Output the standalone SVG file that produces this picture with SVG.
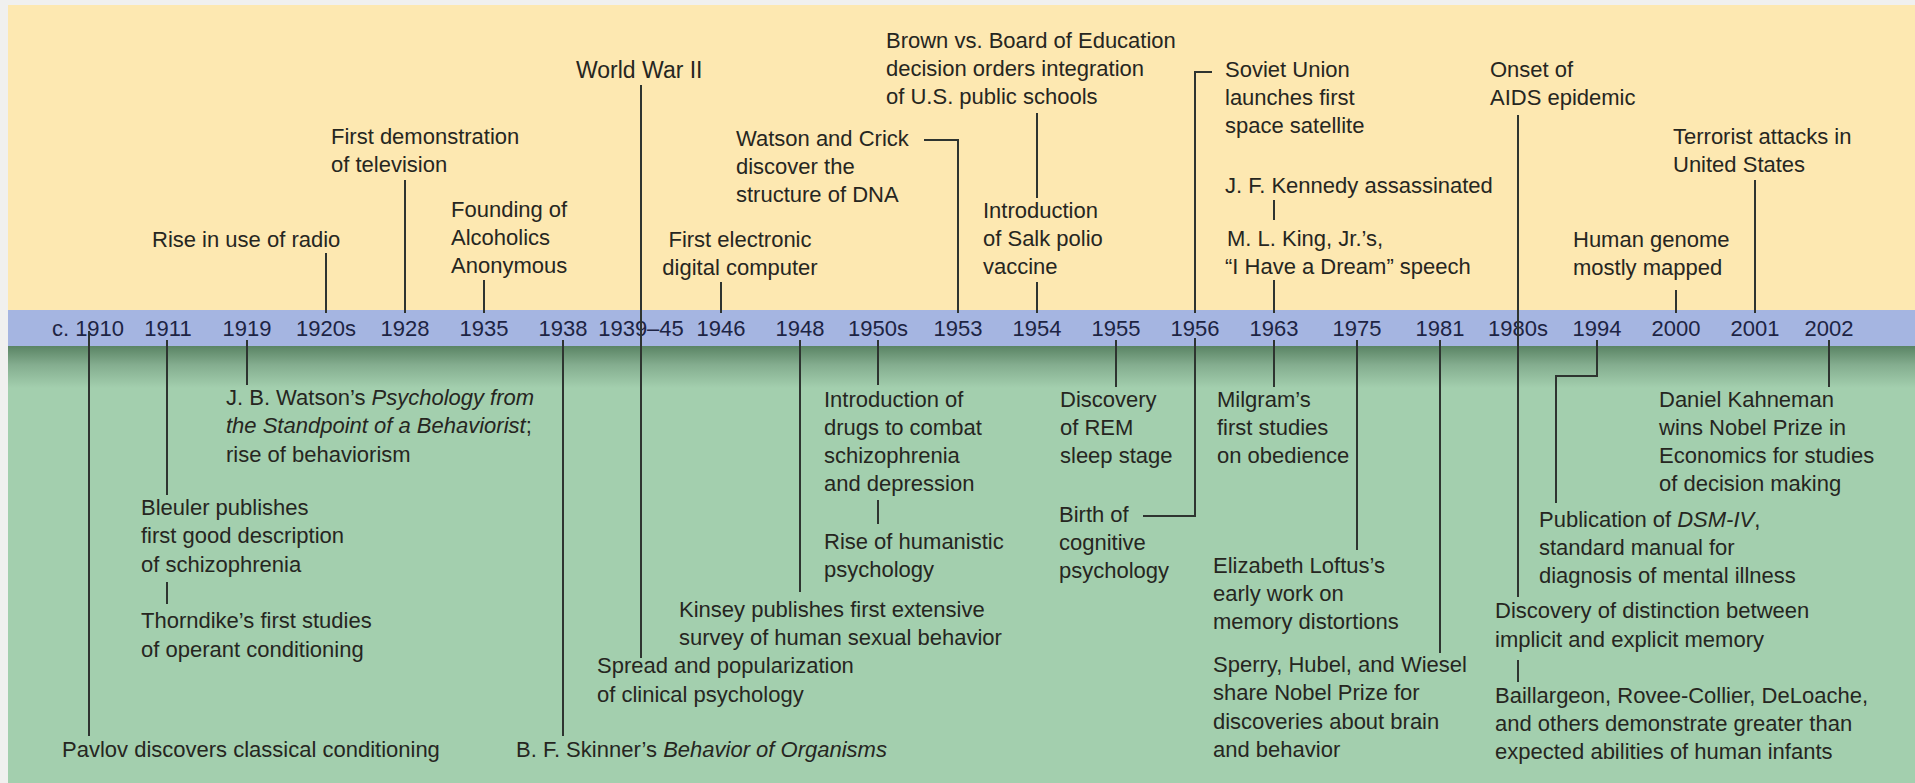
<svg xmlns="http://www.w3.org/2000/svg" width="1915" height="783" viewBox="0 0 1915 783">
<defs>
<linearGradient id="shadow" x1="0" y1="0" x2="0" y2="1">
<stop offset="0" stop-color="#5a8464"/>
<stop offset="0.45" stop-color="#84ad8f"/>
<stop offset="1" stop-color="#a3cfae"/>
</linearGradient>
<style>
.t{font-family:"Liberation Sans",Arial,sans-serif;font-size:22px;fill:#26261f}
.i{font-style:italic}
.yr{font-family:"Liberation Sans",Arial,sans-serif;font-size:22px;fill:#1d2444;text-anchor:middle}
.c{stroke:#2e3430;stroke-width:2;fill:none}
.mid{text-anchor:middle}
</style>
</defs>
<g id="background">
<rect x="0" y="0" width="1915" height="783" fill="#f0f0ef"/>
<rect x="8" y="5" width="1907" height="305" fill="#fde8b1"/>
<rect x="8" y="346" width="1907" height="437" fill="#a3cfae"/>
<rect x="8" y="346" width="1907" height="42" fill="url(#shadow)"/>
<rect x="8" y="310" width="1907" height="36" fill="#a5b5e1"/>
</g>
<g id="years">
<text class="yr" x="88" y="336">c. 1910</text>
<text class="yr" x="168" y="336">1911</text>
<text class="yr" x="247" y="336">1919</text>
<text class="yr" x="326" y="336">1920s</text>
<text class="yr" x="405" y="336">1928</text>
<text class="yr" x="484" y="336">1935</text>
<text class="yr" x="563" y="336">1938</text>
<text class="yr" x="641" y="336">1939–45</text>
<text class="yr" x="721" y="336">1946</text>
<text class="yr" x="800" y="336">1948</text>
<text class="yr" x="878" y="336">1950s</text>
<text class="yr" x="958" y="336">1953</text>
<text class="yr" x="1037" y="336">1954</text>
<text class="yr" x="1116" y="336">1955</text>
<text class="yr" x="1195" y="336">1956</text>
<text class="yr" x="1274" y="336">1963</text>
<text class="yr" x="1357" y="336">1975</text>
<text class="yr" x="1440" y="336">1981</text>
<text class="yr" x="1518" y="336">1980s</text>
<text class="yr" x="1597" y="336">1994</text>
<text class="yr" x="1676" y="336">2000</text>
<text class="yr" x="1755" y="336">2001</text>
<text class="yr" x="1829" y="336">2002</text>
</g>
<g id="connectors">
<line class="c" x1="89" y1="331" x2="89" y2="736"/>
<line class="c" x1="167" y1="340" x2="167" y2="495"/>
<line class="c" x1="167" y1="582" x2="167" y2="604"/>
<line class="c" x1="247" y1="340" x2="247" y2="385"/>
<line class="c" x1="326" y1="253" x2="326" y2="313"/>
<line class="c" x1="405" y1="180" x2="405" y2="313"/>
<line class="c" x1="484" y1="280" x2="484" y2="313"/>
<line class="c" x1="563" y1="340" x2="563" y2="736"/>
<line class="c" x1="641" y1="85" x2="641" y2="658"/>
<line class="c" x1="721" y1="282" x2="721" y2="313"/>
<line class="c" x1="800" y1="340" x2="800" y2="592"/>
<line class="c" x1="878" y1="340" x2="878" y2="385"/>
<line class="c" x1="878" y1="500" x2="878" y2="524"/>
<polyline class="c" points="924,140 958,140 958,313"/>
<line class="c" x1="1037" y1="113" x2="1037" y2="198"/>
<line class="c" x1="1037" y1="282" x2="1037" y2="313"/>
<line class="c" x1="1116" y1="340" x2="1116" y2="387"/>
<polyline class="c" points="1212,72 1195,72 1195,313"/>
<polyline class="c" points="1195,338 1195,516 1143,516"/>
<line class="c" x1="1274" y1="200" x2="1274" y2="220"/>
<line class="c" x1="1274" y1="280" x2="1274" y2="313"/>
<line class="c" x1="1274" y1="340" x2="1274" y2="387"/>
<line class="c" x1="1357" y1="340" x2="1357" y2="550"/>
<line class="c" x1="1440" y1="340" x2="1440" y2="653"/>
<line class="c" x1="1518" y1="115" x2="1518" y2="597"/>
<line class="c" x1="1518" y1="660" x2="1518" y2="682"/>
<polyline class="c" points="1597,340 1597,376 1556,376 1556,503"/>
<line class="c" x1="1676" y1="290" x2="1676" y2="313"/>
<line class="c" x1="1755" y1="180" x2="1755" y2="313"/>
<line class="c" x1="1829" y1="340" x2="1829" y2="387"/>
</g>
<g id="n-radio"><text class="t" x="152" y="247">Rise in use of radio</text></g>
<g id="n-tv"><text class="t"><tspan x="331" y="144">First demonstration</tspan><tspan x="331" y="172">of television</tspan></text></g>
<g id="n-aa"><text class="t"><tspan x="451" y="217">Founding of</tspan><tspan x="451" y="245">Alcoholics</tspan><tspan x="451" y="273">Anonymous</tspan></text></g>
<g id="n-wwii"><text class="t" x="576" y="78" style="font-size:23px">World War II</text></g>
<g id="n-computer"><text class="t mid"><tspan x="740" y="247">First electronic</tspan><tspan x="740" y="275">digital computer</tspan></text></g>
<g id="n-dna"><text class="t"><tspan x="736" y="146">Watson and Crick</tspan><tspan x="736" y="174">discover the</tspan><tspan x="736" y="202">structure of DNA</tspan></text></g>
<g id="n-brown"><text class="t"><tspan x="886" y="48">Brown vs. Board of Education</tspan><tspan x="886" y="76">decision orders integration</tspan><tspan x="886" y="104">of U.S. public schools</tspan></text></g>
<g id="n-salk"><text class="t"><tspan x="983" y="218">Introduction</tspan><tspan x="983" y="246">of Salk polio</tspan><tspan x="983" y="274">vaccine</tspan></text></g>
<g id="n-sputnik"><text class="t"><tspan x="1225" y="77">Soviet Union</tspan><tspan x="1225" y="105">launches first</tspan><tspan x="1225" y="133">space satellite</tspan></text></g>
<g id="n-jfk"><text class="t" x="1225" y="193">J. F. Kennedy assassinated</text></g>
<g id="n-mlk"><text class="t"><tspan x="1227" y="246">M. L. King, Jr.’s,</tspan><tspan x="1225" y="274">“I Have a Dream” speech</tspan></text></g>
<g id="n-aids"><text class="t"><tspan x="1490" y="77">Onset of</tspan><tspan x="1490" y="105">AIDS epidemic</tspan></text></g>
<g id="n-terror"><text class="t"><tspan x="1673" y="144">Terrorist attacks in</tspan><tspan x="1673" y="172">United States</tspan></text></g>
<g id="n-genome"><text class="t"><tspan x="1573" y="247">Human genome</tspan><tspan x="1573" y="275">mostly mapped</tspan></text></g>
<g id="n-pavlov"><text class="t" x="62" y="757">Pavlov discovers classical conditioning</text></g>
<g id="n-bleuler"><text class="t"><tspan x="141" y="515">Bleuler publishes</tspan><tspan x="141" y="543">first good description</tspan><tspan x="141" y="572">of schizophrenia</tspan></text></g>
<g id="n-thorndike"><text class="t"><tspan x="141" y="628">Thorndike’s first studies</tspan><tspan x="141" y="657">of operant conditioning</tspan></text></g>
<g id="n-watson"><text class="t"><tspan x="226" y="405">J. B. Watson’s <tspan class="i">Psychology from</tspan></tspan><tspan x="226" y="433"><tspan class="i">the Standpoint of a Behaviorist</tspan>;</tspan><tspan x="226" y="462">rise of behaviorism</tspan></text></g>
<g id="n-skinner"><text class="t" x="516" y="757">B. F. Skinner’s <tspan class="i">Behavior of Organisms</tspan></text></g>
<g id="n-clinical"><text class="t"><tspan x="597" y="673">Spread and popularization</tspan><tspan x="597" y="702">of clinical psychology</tspan></text></g>
<g id="n-kinsey"><text class="t"><tspan x="679" y="617">Kinsey publishes first extensive</tspan><tspan x="679" y="645">survey of human sexual behavior</tspan></text></g>
<g id="n-drugs"><text class="t"><tspan x="824" y="407">Introduction of</tspan><tspan x="824" y="435">drugs to combat</tspan><tspan x="824" y="463">schizophrenia</tspan><tspan x="824" y="491">and depression</tspan></text></g>
<g id="n-humanistic"><text class="t"><tspan x="824" y="549">Rise of humanistic</tspan><tspan x="824" y="577">psychology</tspan></text></g>
<g id="n-rem"><text class="t"><tspan x="1060" y="407">Discovery</tspan><tspan x="1060" y="435">of REM</tspan><tspan x="1060" y="463">sleep stage</tspan></text></g>
<g id="n-cognitive"><text class="t"><tspan x="1059" y="522">Birth of</tspan><tspan x="1059" y="550">cognitive</tspan><tspan x="1059" y="578">psychology</tspan></text></g>
<g id="n-milgram"><text class="t"><tspan x="1217" y="407">Milgram’s</tspan><tspan x="1217" y="435">first studies</tspan><tspan x="1217" y="463">on obedience</tspan></text></g>
<g id="n-loftus"><text class="t"><tspan x="1213" y="573">Elizabeth Loftus’s</tspan><tspan x="1213" y="601">early work on</tspan><tspan x="1213" y="629">memory distortions</tspan></text></g>
<g id="n-sperry"><text class="t"><tspan x="1213" y="672">Sperry, Hubel, and Wiesel</tspan><tspan x="1213" y="700">share Nobel Prize for</tspan><tspan x="1213" y="729">discoveries about brain</tspan><tspan x="1213" y="757">and behavior</tspan></text></g>
<g id="n-implicit"><text class="t"><tspan x="1495" y="618">Discovery of distinction between</tspan><tspan x="1495" y="647">implicit and explicit memory</tspan></text></g>
<g id="n-infants"><text class="t"><tspan x="1495" y="703">Baillargeon, Rovee-Collier, DeLoache,</tspan><tspan x="1495" y="731">and others demonstrate greater than</tspan><tspan x="1495" y="759">expected abilities of human infants</tspan></text></g>
<g id="n-dsm"><text class="t"><tspan x="1539" y="527">Publication of <tspan class="i">DSM-IV</tspan>,</tspan><tspan x="1539" y="555">standard manual for</tspan><tspan x="1539" y="583">diagnosis of mental illness</tspan></text></g>
<g id="n-kahneman"><text class="t"><tspan x="1659" y="407">Daniel Kahneman</tspan><tspan x="1659" y="435">wins Nobel Prize in</tspan><tspan x="1659" y="463">Economics for studies</tspan><tspan x="1659" y="491">of decision making</tspan></text></g>
</svg>
